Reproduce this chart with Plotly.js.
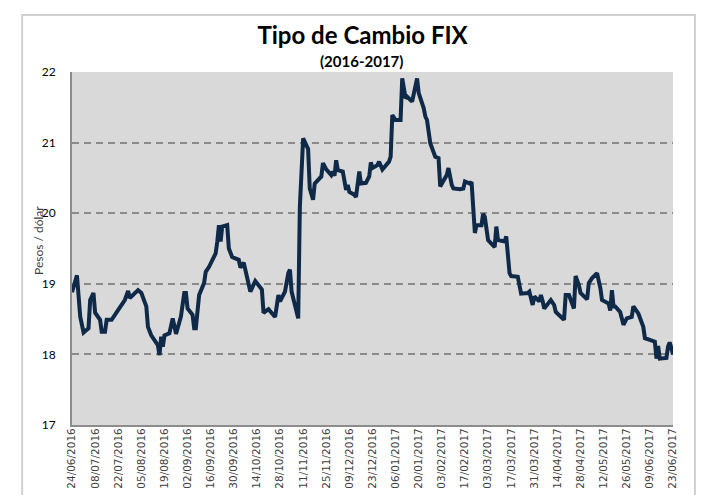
<!DOCTYPE html>
<html>
<head>
<meta charset="utf-8">
<script src="https://cdn.plot.ly/plotly-3.0.1.min.js"></script>
<style>html,body{margin:0;padding:0;background:#fff;}#chart{width:718px;height:495px;}</style>
</head>
<body>
<div id="chart"></div>
<script>
// Fechas (días hábiles)
const dates2016 = ["2016-06-24","2016-06-27","2016-06-29","2016-07-01","2016-07-04","2016-07-05","2016-07-07","2016-07-08","2016-07-11","2016-07-12","2016-07-14","2016-07-15","2016-07-18","2016-07-20","2016-07-22","2016-07-26","2016-07-28","2016-07-29","2016-08-01","2016-08-03","2016-08-05","2016-08-08","2016-08-09","2016-08-11","2016-08-15","2016-08-16","2016-08-17","2016-08-18","2016-08-19","2016-08-22","2016-08-24","2016-08-26","2016-08-29","2016-08-31","2016-09-01","2016-09-02","2016-09-05","2016-09-06","2016-09-07","2016-09-09","2016-09-12","2016-09-13","2016-09-15","2016-09-19","2016-09-20","2016-09-21","2016-09-22","2016-09-23","2016-09-26","2016-09-27","2016-09-29","2016-10-03","2016-10-04","2016-10-06","2016-10-10","2016-10-13","2016-10-17","2016-10-18","2016-10-21","2016-10-25","2016-10-27","2016-10-28","2016-10-31","2016-11-02","2016-11-03","2016-11-04","2016-11-08","2016-11-09","2016-11-11","2016-11-14","2016-11-15","2016-11-17","2016-11-18","2016-11-22","2016-11-23","2016-11-25","2016-11-28","2016-11-29","2016-11-30","2016-12-01","2016-12-02","2016-12-05","2016-12-07","2016-12-08","2016-12-09","2016-12-12","2016-12-13","2016-12-15","2016-12-16","2016-12-19","2016-12-21","2016-12-22","2016-12-23","2016-12-26","2016-12-27","2016-12-29"];
const values2016 = [18.88,19.12,18.53,18.31,18.37,18.77,18.87,18.59,18.49,18.32,18.32,18.49,18.49,18.57,18.63,18.77,18.90,18.80,18.87,18.91,18.87,18.68,18.39,18.27,18.13,17.99,18.25,18.11,18.27,18.30,18.51,18.29,18.54,18.87,18.87,18.65,18.56,18.37,18.37,18.84,19.01,19.17,19.24,19.43,19.60,19.83,19.60,19.81,19.83,19.50,19.38,19.34,19.23,19.30,18.89,19.04,18.92,18.59,18.64,18.53,18.84,18.75,18.89,19.15,19.20,18.89,18.51,20.09,21.06,20.91,20.35,20.19,20.42,20.52,20.71,20.62,20.54,20.59,20.53,20.75,20.61,20.59,20.33,20.40,20.30,20.26,20.23,20.59,20.42,20.43,20.52,20.72,20.64,20.68,20.73,20.62];
const dates2017 = ["2017-01-02","2017-01-03","2017-01-04","2017-01-06","2017-01-09","2017-01-10","2017-01-12","2017-01-13","2017-01-16","2017-01-19","2017-01-20","2017-01-23","2017-01-24","2017-01-25","2017-01-27","2017-01-30","2017-02-01","2017-02-02","2017-02-06","2017-02-07","2017-02-09","2017-02-10","2017-02-14","2017-02-16","2017-02-17","2017-02-20","2017-02-21","2017-02-23","2017-02-24","2017-02-27","2017-02-28","2017-03-01","2017-03-03","2017-03-06","2017-03-07","2017-03-08","2017-03-09","2017-03-13","2017-03-14","2017-03-16","2017-03-17","2017-03-21","2017-03-23","2017-03-27","2017-03-28","2017-03-30","2017-03-31","2017-04-03","2017-04-04","2017-04-05","2017-04-06","2017-04-10","2017-04-12","2017-04-13","2017-04-18","2017-04-19","2017-04-21","2017-04-24","2017-04-25","2017-04-27","2017-04-28","2017-05-02","2017-05-03","2017-05-05","2017-05-08","2017-05-10","2017-05-11","2017-05-15","2017-05-16","2017-05-17","2017-05-18","2017-05-19","2017-05-22","2017-05-24","2017-05-26","2017-05-29","2017-05-30","2017-06-02","2017-06-05","2017-06-06","2017-06-09","2017-06-12","2017-06-13","2017-06-14","2017-06-15","2017-06-16","2017-06-19","2017-06-20","2017-06-21","2017-06-22","2017-06-23"];
const values2017 = [20.73,20.80,21.39,21.32,21.32,21.91,21.63,21.65,21.58,21.91,21.70,21.49,21.37,21.32,20.99,20.80,20.78,20.38,20.54,20.64,20.40,20.35,20.34,20.35,20.45,20.42,20.44,19.72,19.83,19.83,19.99,19.95,19.62,19.55,19.52,19.81,19.62,19.60,19.67,19.15,19.11,19.10,18.86,18.87,18.89,18.70,18.82,18.75,18.84,18.76,18.65,18.77,18.70,18.60,18.49,18.84,18.84,18.65,19.11,18.98,18.87,18.78,19.01,19.08,19.15,18.94,18.77,18.72,18.62,18.91,18.68,18.68,18.60,18.42,18.51,18.53,18.68,18.58,18.39,18.23,18.20,18.18,17.94,18.12,17.94,17.94,17.95,18.11,18.17,18.09,18.00];

const tickDates = ["2016-06-24","2016-07-08","2016-07-22","2016-08-05","2016-08-19","2016-09-02","2016-09-16","2016-09-30","2016-10-14","2016-10-28","2016-11-11","2016-11-25","2016-12-09","2016-12-23","2017-01-06","2017-01-20","2017-02-03","2017-02-17","2017-03-03","2017-03-17","2017-03-31","2017-04-14","2017-04-28","2017-05-12","2017-05-26","2017-06-09","2017-06-23"];
const tickLabels = ["24/06/2016","08/07/2016","22/07/2016","05/08/2016","19/08/2016","02/09/2016","16/09/2016","30/09/2016","14/10/2016","28/10/2016","11/11/2016","25/11/2016","09/12/2016","23/12/2016","06/01/2017","20/01/2017","03/02/2017","17/02/2017","03/03/2017","17/03/2017","31/03/2017","14/04/2017","28/04/2017","12/05/2017","26/05/2017","09/06/2017","23/06/2017"];
const yTicks = [17,18,19,20,21,22];

const trace = {
  x: dates2016.concat(dates2017),
  y: values2016.concat(values2017),
  type: 'scatter',
  mode: 'lines',
  line: {color: '#0f2948', width: 4},
  hoverinfo: 'x+y'
};

const layout = {
  width: 718, height: 495,
  margin: {l: 72, r: 45, t: 72, b: 70, pad: 0},
  paper_bgcolor: '#ffffff',
  plot_bgcolor: '#d9d9d9',
  showlegend: false,
  title: {
    text: '<b>Tipo de Cambio FIX</b>',
    font: {family: 'Lato, sans-serif', size: 24, color: '#000'},
    x: 0.505, xanchor: 'center', y: 0.928, yanchor: 'middle'
  },
  annotations: [{
    text: '<b>(2016-2017)</b>', showarrow: false,
    xref: 'paper', yref: 'paper', x: 0.4825, y: 1.03, xanchor: 'center', yanchor: 'middle',
    font: {family: 'Lato, sans-serif', size: 15, color: '#000'}
  }, {
    text: 'Pesos / dólar', showarrow: false, textangle: -90,
    xref: 'paper', yref: 'paper', x: -0.0566, y: 0.524, xanchor: 'center', yanchor: 'middle',
    font: {family: 'Lato, sans-serif', size: 12, color: '#404040'}
  }],
  shapes: [{
    type: 'rect', xref: 'paper', yref: 'paper', layer: 'below',
    x0: -0.083, x1: 1.0366, y0: -0.22, y1: 1.1615,
    line: {color: '#d0d0d0', width: 2}, fillcolor: 'rgba(0,0,0,0)'
  }],
  xaxis: {
    type: 'date',
    range: ['2016-06-24', '2017-06-23'],
    tickmode: 'array', tickvals: tickDates, ticktext: tickLabels,
    tickangle: -90,
    tickfont: {family: 'DejaVu Sans, sans-serif', size: 10.5, color: '#404040'},
    ticklabelstandoff: -3,
    showgrid: false, zeroline: false,
    showline: true, linecolor: '#8c8c8c', linewidth: 2,
    ticks: '', fixedrange: true
  },
  yaxis: {
    range: [17, 22],
    tickmode: 'array', tickvals: yTicks,
    tickfont: {family: 'Lato, sans-serif', size: 12, color: '#000'},
    ticklabelstandoff: 12,
    showgrid: true, gridcolor: '#8a8a8a', gridwidth: 2, griddash: '7px,5px',
    zeroline: false,
    showline: true, linecolor: '#8c8c8c', linewidth: 2,
    ticks: '',
    fixedrange: true
  }
};

Plotly.newPlot('chart', [trace], layout, {displayModeBar: false, staticPlot: true});
</script>
</body>
</html>
